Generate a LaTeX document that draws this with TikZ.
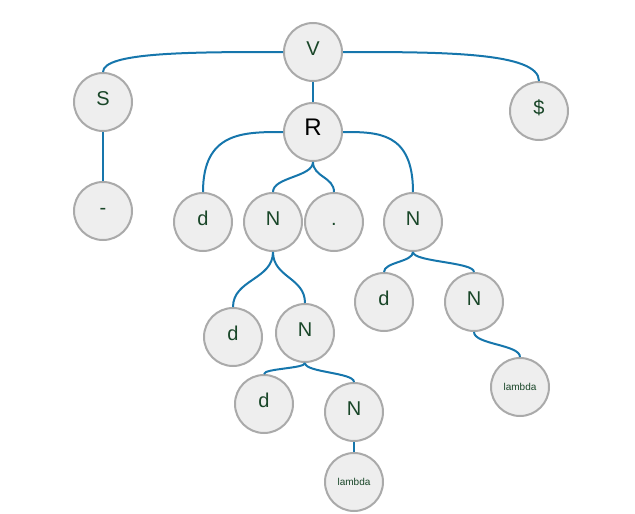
\documentclass[tikz,border=0pt]{standalone}
\usepackage{fontspec}
\setmainfont{Liberation Sans}
\usetikzlibrary{calc}
\usetikzlibrary{positioning}
\definecolor{linkblue}{RGB}{22,118,172}
\definecolor{nodefill}{RGB}{238,238,238}
\definecolor{nodeborder}{RGB}{170,170,170}
\definecolor{labelgreen}{RGB}{25,70,40}
\tikzstyle{treenode} = [draw=nodeborder, fill=nodefill, circle, line width=2pt, minimum size=58pt, inner sep=0pt, text height=1.5ex, text depth=.25ex, align=center, text=labelgreen, font=\fontsize{20}{24}\selectfont]
\tikzstyle{bignode} = [treenode, text=black, font=\fontsize{24}{28}\selectfont]
\tikzstyle{smallnode} = [treenode, font=\fontsize{10}{12}\selectfont]
\tikzstyle{link} = [draw=linkblue, line width=2pt]

\begin{document}
\begin{tikzpicture}[x=1pt, y=-1pt]
\useasboundingbox (0,0) rectangle (635,514);
\node[treenode] (v) at (313,52) {V};
\node[treenode] (s) at ($(v)+(-210,50)$) {S};
\node[treenode] (dollar) at ($(v)+(226,59)$) {\$};
\node[bignode] (r) at ($(v)+(0,80)$) {R};
\node[treenode] (dash) at ($(s)+(0,109)$) {-};

\node[treenode] (r_d) at ($(r)+(-110,90)$) {d};
\node[treenode] (r_n) at ($(r)+(-40,90)$) {N};
\node[treenode] (r_dot) at ($(r)+(21,90)$) {.};
\node[treenode] (r_n2) at ($(r)+(100,90)$) {N};

\node[treenode] (rn_d) at ($(r_n)+(-40,115)$) {d};
\node[treenode] (rn_n) at ($(r_n)+(32,111)$) {N};
\node[treenode] (rnn_d) at ($(rn_n)+(-41,71)$) {d};
\node[treenode] (rnn_n) at ($(rn_n)+(49,79)$) {N};
\node[smallnode] (rnn_lambda) at ($(rnn_n)+(0,70)$) {lambda};

\node[treenode] (rn2_d) at ($(r_n2)+(-29,80)$) {d};
\node[treenode] (rn2_n) at ($(r_n2)+(61,80)$) {N};
\node[smallnode] (rn2_lambda) at ($(rn2_n)+(46,85)$) {lambda};

% straight links
\draw[link] (v) -- (r);
\draw[link] (s) -- (dash);
\draw[link] (rnn_n) -- (rnn_lambda);

% links leaving from the side
\foreach \from/\to/\side in {v/s/west, v/dollar/east, r/r_d/west, r/r_n2/east}
  \draw[link] (\from.\side) .. controls ($(\from.\side)!0.5!(\to.north |- \from.\side)$) and (\to.north |- \from.\side) .. (\to.north);

% links leaving from below
\foreach \from/\to in {r/r_n, r/r_dot, r_n/rn_d, r_n/rn_n, rn_n/rnn_d, rn_n/rnn_n, r_n2/rn2_d, r_n2/rn2_n, rn2_n/rn2_lambda} {
  \coordinate (mid) at ($(\from.south)!0.5!(\to.north)$);
  \draw[link] (\from.south) .. controls (\from.south |- mid) and (\to.north |- mid) .. (\to.north);
}
\end{tikzpicture}
\end{document}
